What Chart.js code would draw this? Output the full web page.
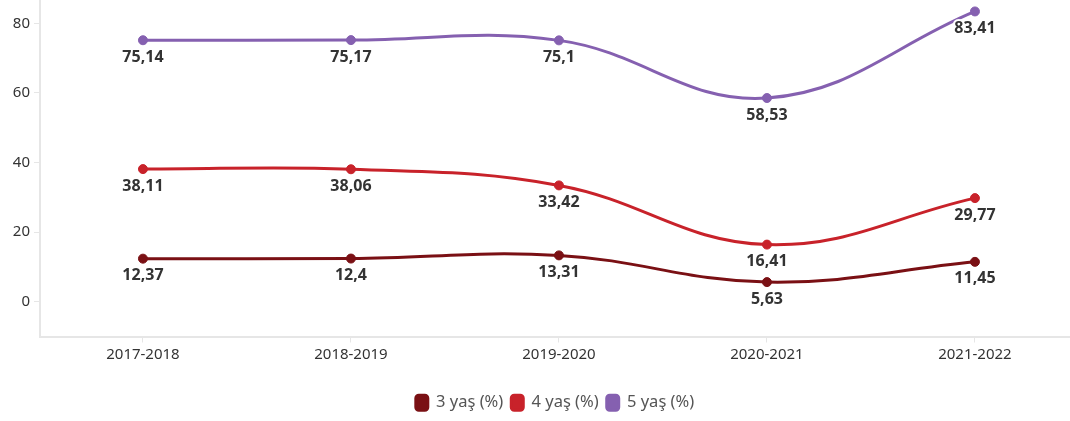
<!DOCTYPE html>
<html><head><meta charset="utf-8">
<script src="https://cdn.jsdelivr.net/npm/chart.js@4"></script>
<style>html,body{margin:0;padding:0;background:#fff}#wrap{width:1070px;height:421px}</style>
</head><body><div id="wrap"><canvas id="c" width="1070" height="421"></canvas></div>
<script>
const categories = ["2017-2018","2018-2019","2019-2020","2020-2021","2021-2022"];
const seriesNames = ["3 yaş (%)","4 yaş (%)","5 yaş (%)"];
const age3 = [12.37, 12.4, 13.31, 5.63, 11.45];
const age4 = [38.11, 38.06, 33.42, 16.41, 29.77];
const age5 = [75.14, 75.17, 75.1, 58.53, 83.41];
const yTicks = [0, 20, 40, 60, 80];
const colors = ["#7a1014", "#c8222a", "#8560b0"];
const FONT = "'Noto Sans', sans-serif";

const toPts = arr => arr.map((v, i) => ({x: i, y: v}));
const datasets = [age3, age4, age5].map((arr, k) => ({
  label: seriesNames[k], data: toPts(arr),
  borderColor: colors[k], backgroundColor: colors[k],
  pointBackgroundColor: colors[k], pointBorderColor: colors[k],
  borderWidth: 3, pointRadius: 4.5, pointBorderWidth: 1, pointHoverRadius: 4.5, tension: 0.4, fill: false,
  clip: false
}));

const labelPlugin = {
  id: 'vlabels',
  afterDatasetsDraw(chart) {
    const ctx = chart.ctx;
    ctx.save();
    ctx.font = "bold 16px " + FONT;
    ctx.textAlign = 'center'; ctx.textBaseline = 'middle';
    ctx.lineJoin = 'round';
    chart.data.datasets.forEach((ds, di) => {
      chart.getDatasetMeta(di).data.forEach((pt, i) => {
        const txt = String(ds.data[i].y).replace('.', ',');
        const y = pt.y + 17;
        ctx.lineWidth = 4; ctx.strokeStyle = '#fff';
        ctx.strokeText(txt, pt.x, y);
        ctx.fillStyle = '#333';
        ctx.fillText(txt, pt.x, y);
      });
    });
    ctx.restore();
  }
};

new Chart(document.getElementById('c'), {
  type: 'line',
  data: { datasets },
  plugins: [labelPlugin],
  options: {
    responsive: false, animation: false,
    layout: { autoPadding: false, padding: { top: 0, right: 0, left: 0, bottom: 0 } },
    plugins: {
      tooltip: { enabled: false },
      legend: {
        position: 'bottom', fullSize: false,
        labels: { boxWidth: 12, boxHeight: 15, useBorderRadius: true, borderRadius: 3,
          color: '#555', font: { family: FONT, size: 16.5 }, padding: 8 }
      }
    },
    scales: {
      x: {
        type: 'linear', min: -0.495, max: 4.457,
        afterBuildTicks: ax => { ax.ticks = categories.map((c, i) => ({value: i})); },
        afterFit: ax => { ax.height = 50; ax.paddingLeft = 0; ax.paddingRight = 0; },
        ticks: { callback: (v) => categories[v], color: '#333', font: { family: FONT, size: 15 }, padding: 3, maxRotation: 0 },
        grid: { drawOnChartArea: false, drawTicks: true, tickLength: 6, color: '#e6e6e6', lineWidth: 1 },
        border: { color: '#e6e6e6', width: 2 }
      },
      y: {
        min: -10, max: 86.7,
        afterBuildTicks: ax => { ax.ticks = yTicks.map(v => ({value: v})); },
        afterFit: ax => { ax.width = 40; ax.paddingTop = 0; ax.paddingBottom = 0; },
        ticks: { color: '#333', font: { family: FONT, size: 15 }, padding: 4 },
        grid: { drawOnChartArea: false, drawTicks: true, tickLength: 6, color: '#e6e6e6', lineWidth: 1 },
        border: { color: '#e6e6e6', width: 2 }
      }
    }
  }
});
</script></body></html>
